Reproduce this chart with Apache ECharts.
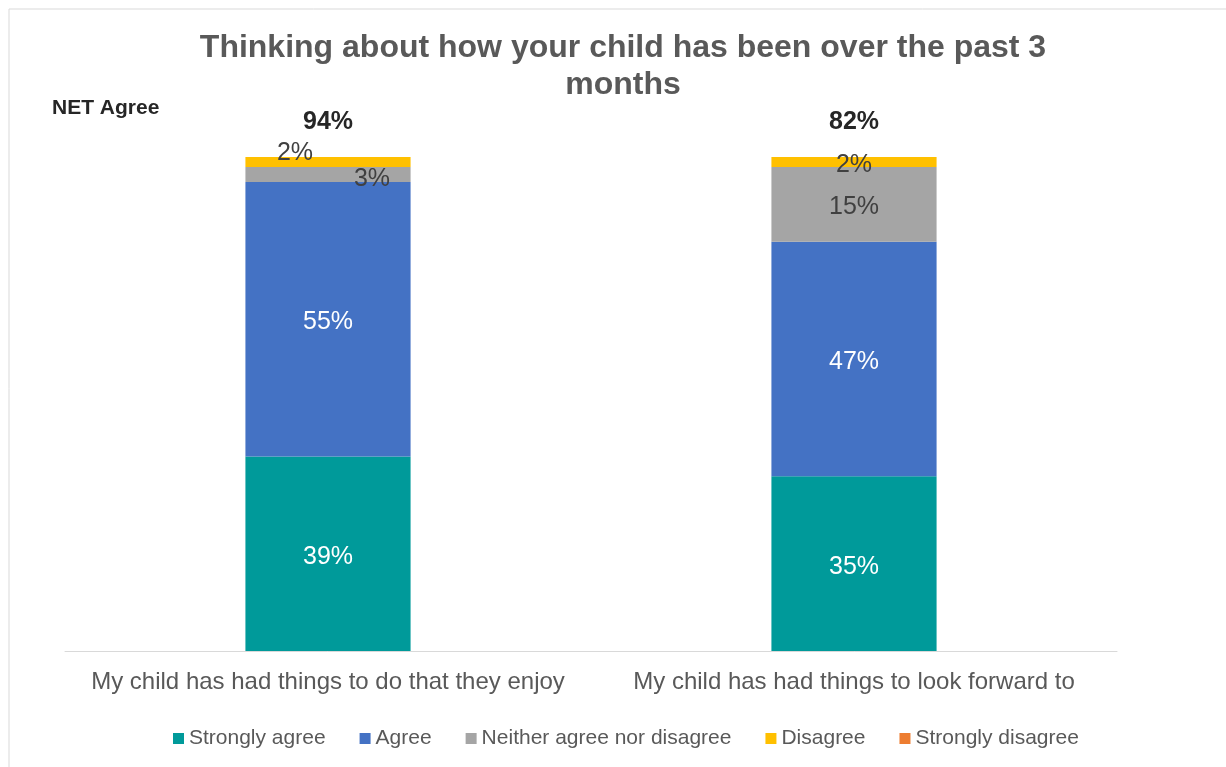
<!DOCTYPE html>
<html>
<head>
<meta charset="utf-8">
<script src="https://cdn.jsdelivr.net/npm/echarts@6/dist/echarts.min.js"></script>
<style>
  html, body { margin: 0; padding: 0; background: #ffffff; }
  #chart { width: 1226px; height: 767px; }
</style>
</head>
<body>
<div id="chart"></div>
<script>
// Survey statements (x axis)
const categories = [
  'My child has had things to do that they enjoy',
  'My child has had things to look forward to'
];
// Response shares, in percent
const stronglyAgree = [39, 35];
const agree = [55, 47];
const neither = [3, 15];
const disagree = [2, 2];
const stronglyDisagree = [0, 0];
// NET Agree totals shown above each bar
const netAgree = [94, 82];

const seriesNames = ['Strongly agree', 'Agree', 'Neither agree nor disagree', 'Disagree', 'Strongly disagree'];
const seriesValues = [stronglyAgree, agree, neither, disagree, stronglyDisagree];
const seriesColors = ['#009a9a', '#4472c4', '#a5a5a5', '#ffc000', '#ed7d31'];
const labelColors = ['#ffffff', '#ffffff', '#404040', '#404040', '#404040'];

// Label nudges: a small drop for all, and side shifts for the thin segments
const defaultOffset = [0, 3];
const labelOffsets = {
  'Neither agree nor disagree': [[44, 5], [0, 3]],
  'Disagree': [[-33, -9], [0, 3]]
};

const FONT = "'Liberation Sans', Arial, sans-serif";

const series = seriesNames.map((name, si) => ({
  name: name,
  type: 'bar',
  stack: 'total',
  stackStrategy: 'all',
  barWidth: '31.4%',
  itemStyle: { color: seriesColors[si] },
  label: {
    show: name !== 'Strongly disagree',
    position: 'inside',
    offset: defaultOffset,
    color: labelColors[si],
    fontFamily: FONT,
    fontSize: 25,
    formatter: p => p.value + '%'
  },
  emphasis: { disabled: true },
  data: seriesValues[si].map((v, i) => {
    const item = { value: v };
    if (labelOffsets[name]) item.label = { offset: labelOffsets[name][i] };
    return item;
  })
}));

// NET Agree totals, carried by an empty segment on top of each stack
series.push({
  name: 'NET Agree',
  type: 'bar',
  stack: 'total',
  stackStrategy: 'all',
  barWidth: '31.4%',
  itemStyle: { color: 'rgba(0,0,0,0)' },
  label: {
    show: true,
    position: 'top',
    distance: 22,
    color: '#262626',
    fontFamily: FONT,
    fontSize: 25,
    fontWeight: 'bold',
    formatter: p => netAgree[p.dataIndex] + '%'
  },
  emphasis: { disabled: true },
  data: netAgree.map(() => 0)
});

const chart = echarts.init(document.getElementById('chart'), null, { renderer: 'canvas' });
chart.setOption({
  backgroundColor: '#ffffff',
  animation: false,
  title: {
    text: 'Thinking about how your child has been over the past 3\nmonths',
    left: 623,
    top: 30,
    padding: 0,
    textAlign: 'center',
    textStyle: {
      fontFamily: FONT,
      fontSize: 32,
      fontWeight: 'bold',
      color: '#595959',
      lineHeight: 37
    }
  },
  graphic: [
    {
      type: 'rect',
      silent: true,
      shape: { x: 9, y: 9, width: 1400, height: 900 },
      style: { fill: 'none', stroke: '#d9d9d9', lineWidth: 1 }
    },
    {
      type: 'text',
      left: 52,
      top: 98,
      style: {
        text: 'NET Agree',
        fontFamily: FONT,
        fontSize: 21,
        fontWeight: 'bold',
        fill: '#262626'
      }
    }
  ],
  legend: {
    data: seriesNames,
    bottom: 13,
    left: 168,
    icon: 'rect',
    itemWidth: 11,
    itemHeight: 11,
    itemGap: 34,
    textStyle: { fontFamily: FONT, fontSize: 21, color: '#595959' }
  },
  grid: { left: 65, right: 109, top: 152, bottom: 116, containLabel: false },
  xAxis: {
    type: 'category',
    data: categories,
    axisLine: { lineStyle: { color: '#d9d9d9', width: 1 } },
    axisTick: { show: false },
    axisLabel: {
      fontFamily: FONT,
      fontSize: 24,
      color: '#595959',
      margin: 19,
      interval: 0
    }
  },
  yAxis: {
    type: 'value',
    min: 0,
    max: 100,
    show: false,
    splitLine: { show: false }
  },
  series: series
});
</script>
</body>
</html>
